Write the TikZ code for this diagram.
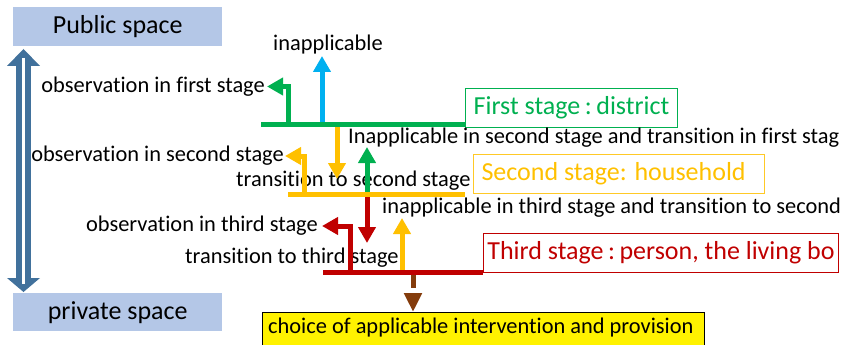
\documentclass[tikz,border=0pt]{standalone}
\usepackage{fontspec}
\setmainfont{Carlito}[Ligatures=NoCommon, RawFeature={-liga;-clig;-calt}]
\usetikzlibrary{arrows.meta}

\definecolor{spaceblue}{HTML}{B4C7E7}
\definecolor{arrowblue}{HTML}{41719C}
\definecolor{stgreen}{HTML}{00B050}
\definecolor{stcyan}{HTML}{00B0F0}
\definecolor{storange}{HTML}{FFC000}
\definecolor{stred}{HTML}{C00000}
\definecolor{stbrown}{HTML}{843C0C}

% spaced colon used in the stage titles
\newcommand{\wcolon}{\kern4.5pt:\kern4.5pt}

\tikzset{
  flow/.style={line width=5pt, -{Triangle[width=17pt,length=16pt]}},
  bar/.style={line width=5pt},
  lbl/.style={inner sep=0pt, font=\fontsize{22.4}{26}\selectfont},
  stagebox/.style={draw, line width=1pt, minimum height=39pt, inner sep=0pt,
    font=\fontsize{26}{30}\selectfont},
  spacebox/.style={fill=spaceblue, minimum width=209pt, minimum height=39pt,
    inner sep=0pt, font=\fontsize{26}{30}\selectfont},
}

\begin{document}
\begin{tikzpicture}[x=1pt, y=-1pt]
\clip (0,0) rectangle (844,345);

% public / private space
\node[spacebox, anchor=north west] (pub) at (13,7) {Public space};
\node[spacebox, anchor=north west, minimum height=38pt] (priv) at (13,293) {private space};

% double arrow between the two spaces
\coordinate (dtop) at (23.5,49);
\coordinate (dbot) at (23.5,292);
\fill[arrowblue] (dtop) -- ++(16.5,17) -- ++(-33,0) -- cycle;
\fill[arrowblue] (dbot) -- ++(16.5,-14) -- ++(-33,0) -- cycle;
\draw[arrowblue, line width=15pt] (23.5,65) -- (23.5,279);
\draw[white, line width=3.5pt] (23.5,58) -- (23.5,284);

% stage boxes
\node[stagebox, draw=stgreen, text=stgreen, minimum width=212pt, anchor=north west]
  (s1) at (465,88) {First stage\wcolon district};
\node[stagebox, draw=storange!85, text=storange, minimum width=291pt, text width=275pt,
  align=flush left, inner xsep=8pt, anchor=north west]
  (s2) at (473,154) {Second stage: household};
\node[stagebox, draw=stred, text=stred, minimum width=355pt, anchor=north west]
  (s3) at (483,233) {Third stage\wcolon person, the living bo};

% final choice box
\node[draw=black, fill=yellow, line width=0.8pt, anchor=north west,
  minimum width=442pt, minimum height=36pt] (choice) at (262,312) {};
\node[lbl, anchor=west] (choicetxt) at (268,328) {choice of applicable intervention and provision};

% labels
\node[lbl] (inap1) at (328,45) {inapplicable};
\node[lbl, anchor=east] (obs1) at (265,86.5) {observation in first stage};
\node[lbl, anchor=west] (inap2) at (348,138) {Inapplicable in second stage and transition in first stag};
\node[lbl, anchor=east] (obs2) at (284,156) {observation in second stage};
\node[lbl, anchor=west] (tr2) at (236,181) {transition to second stage};
\node[lbl, anchor=west] (inap3) at (382,207.5) {inapplicable in third stage and transition to second};
\node[lbl, anchor=east] (obs3) at (318,226) {observation in third stage};
\node[lbl, anchor=west] (tr3) at (185,258) {transition to third stage};

% first stage
\coordinate (g1) at (288.5,124.5);
\coordinate (c1) at (322,124.5);
\draw[flow, stgreen] (g1) |- ([xshift=2pt]obs1.east);
\draw[flow, stcyan] (c1) -- (322,56) coordinate (ctip);

% second stage
\coordinate (o1) at (337,126);
\coordinate (g2) at (367,194);
\coordinate (o2) at (304.5,194);
\draw[flow, storange] (o1) -- (337,179);
\draw[flow, stgreen] (g2) -- (367,147);
\draw[flow, storange] (o2) |- ([xshift=1pt]obs2.east);

% third stage
\coordinate (r1) at (367,196);
\coordinate (o3) at (402,272.5);
\coordinate (r2) at (350,272.5);
\draw[flow, stred] (r1) -- (367,243);
\draw[flow, storange] (o3) -- (402,218);
\draw[flow, stred] (r2) |- ([xshift=4pt]obs3.east);

% stage bars
\draw[bar, stgreen] (261,124.5) -- (465,124.5);
\draw[bar, storange] (288,194) -- (465,194);
\draw[bar, stred] (323,272.5) -- (483,272.5);

% to the final choice
\coordinate (br) at (413,275);
\draw[stbrown, line width=5pt, dash pattern=on 13pt off 40pt,
  -{Triangle[width=17pt,length=19pt]}] (br) -- (br |- choice.north);
\end{tikzpicture}
\end{document}
